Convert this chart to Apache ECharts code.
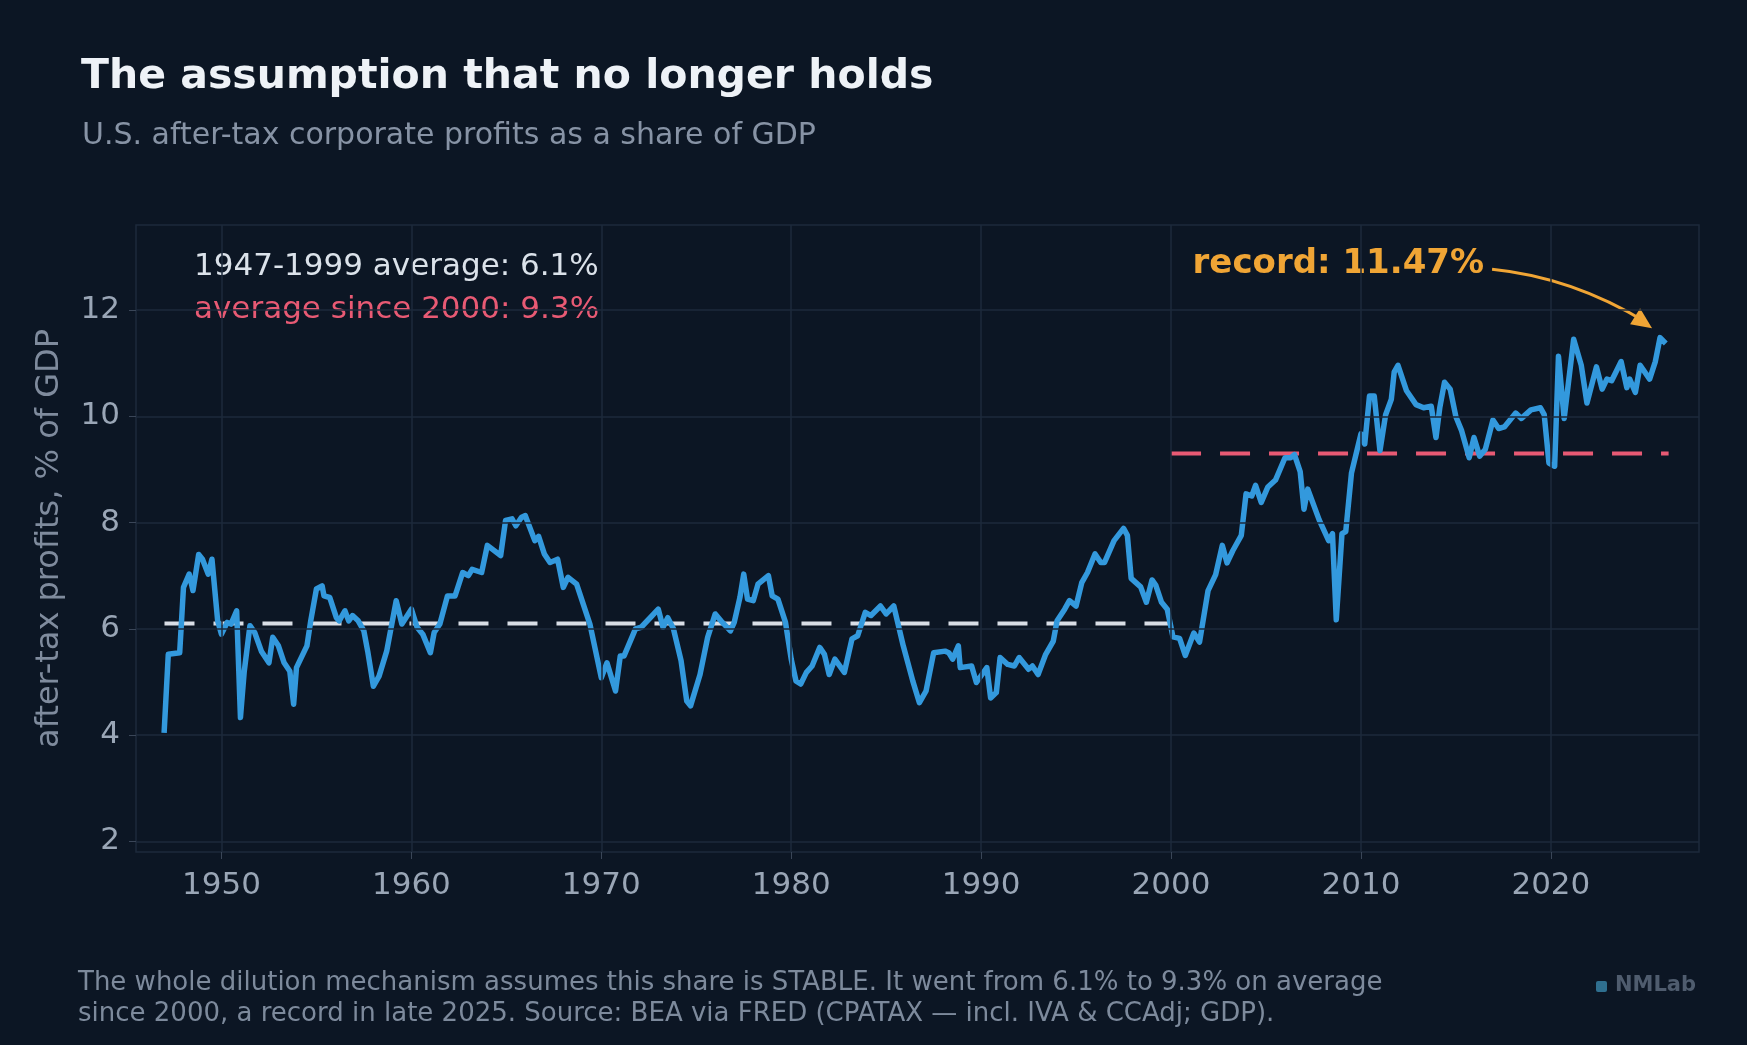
<!DOCTYPE html>
<html><head><meta charset="utf-8">
<script src="https://cdn.jsdelivr.net/npm/echarts@6/dist/echarts.min.js"></script>
<style>html,body{margin:0;padding:0;background:#0c1624}#c{width:1747px;height:1045px}</style>
</head><body><div id="c"></div>
<script>
const years = [1946.98,1947.2,1947.8,1948.0,1948.3,1948.5,1948.8,1949.0,1949.3,1949.5,1949.8,1950.0,1950.3,1950.5,1950.8,1951.0,1951.2,1951.5,1951.75,1952.1,1952.5,1952.7,1953.0,1953.3,1953.6,1953.8,1953.95,1954.5,1954.7,1955.0,1955.3,1955.4,1955.7,1956.05,1956.2,1956.5,1956.7,1956.9,1957.2,1957.5,1957.7,1958.0,1958.3,1958.7,1959.2,1959.5,1960.0,1960.3,1960.6,1961.0,1961.2,1961.5,1961.9,1962.3,1962.7,1963.0,1963.2,1963.7,1964.0,1964.7,1964.96,1965.3,1965.5,1965.8,1966.0,1966.5,1966.7,1967.0,1967.3,1967.7,1968.0,1968.25,1968.7,1969.4,1970.0,1970.3,1970.75,1971.0,1971.2,1971.8,1972.1,1972.2,1972.5,1973.0,1973.25,1973.5,1973.8,1974.2,1974.5,1974.7,1975.2,1975.6,1976.0,1976.3,1976.8,1977.0,1977.3,1977.5,1977.7,1978.0,1978.25,1978.8,1979.0,1979.3,1979.7,1980.0,1980.25,1980.5,1980.8,1981.1,1981.5,1981.75,1982.0,1982.3,1982.8,1983.2,1983.5,1983.9,1984.2,1984.7,1985.0,1985.4,1985.9,1986.4,1986.75,1987.1,1987.5,1988.1,1988.3,1988.5,1988.8,1988.9,1989.5,1989.75,1990.3,1990.5,1990.8,1991.0,1991.4,1991.75,1992.0,1992.5,1992.7,1993.0,1993.4,1993.8,1994.0,1994.4,1994.65,1995.0,1995.3,1995.6,1996.0,1996.3,1996.5,1997.0,1997.5,1997.7,1997.9,1998.4,1998.7,1999.0,1999.2,1999.5,1999.8,2000.1,2000.45,2000.75,2001.2,2001.5,2001.95,2002.35,2002.7,2002.95,2003.25,2003.7,2003.95,2004.25,2004.45,2004.75,2005.1,2005.5,2006.0,2006.3,2006.5,2006.8,2007.0,2007.2,2007.8,2008.3,2008.5,2008.7,2009.0,2009.2,2009.5,2010.0,2010.2,2010.45,2010.7,2011.0,2011.3,2011.6,2011.75,2011.95,2012.4,2012.9,2013.3,2013.7,2013.95,2014.15,2014.4,2014.7,2015.0,2015.3,2015.7,2015.95,2016.25,2016.55,2016.95,2017.25,2017.55,2018.15,2018.45,2018.95,2019.45,2019.65,2019.9,2020.2,2020.4,2020.7,2021.2,2021.6,2021.9,2022.4,2022.7,2022.95,2023.2,2023.7,2024.0,2024.15,2024.45,2024.7,2025.2,2025.5,2025.75,2026.05];
const shares = [4.04,5.52,5.55,6.78,7.03,6.72,7.4,7.31,7.03,7.31,6.15,5.9,6.12,6.09,6.34,4.33,5.2,6.06,5.93,5.58,5.36,5.84,5.68,5.36,5.2,4.58,5.27,5.68,6.15,6.75,6.81,6.62,6.59,6.21,6.15,6.34,6.15,6.25,6.15,5.96,5.58,4.92,5.11,5.58,6.53,6.09,6.37,6.03,5.9,5.55,5.93,6.09,6.62,6.62,7.06,7.0,7.12,7.06,7.57,7.38,8.04,8.07,7.94,8.1,8.13,7.66,7.74,7.41,7.25,7.31,6.78,6.97,6.84,6.09,5.08,5.36,4.83,5.49,5.49,6.0,6.03,6.0,6.18,6.37,6.03,6.21,6.0,5.4,4.64,4.55,5.14,5.84,6.28,6.15,5.96,6.12,6.59,7.03,6.56,6.53,6.84,7.0,6.62,6.56,6.12,5.43,5.02,4.96,5.18,5.3,5.65,5.52,5.14,5.43,5.18,5.81,5.87,6.31,6.25,6.43,6.28,6.43,5.68,5.02,4.61,4.83,5.55,5.58,5.55,5.43,5.68,5.27,5.3,4.99,5.27,4.7,4.8,5.46,5.33,5.3,5.46,5.24,5.3,5.14,5.52,5.77,6.15,6.37,6.53,6.43,6.87,7.06,7.41,7.25,7.25,7.66,7.89,7.76,6.95,6.79,6.5,6.92,6.82,6.5,6.37,5.85,5.82,5.5,5.92,5.75,6.72,7.02,7.57,7.24,7.47,7.76,8.54,8.5,8.7,8.38,8.67,8.8,9.22,9.22,9.28,8.96,8.25,8.63,8.05,7.66,7.79,6.17,7.79,7.83,8.93,9.67,9.48,10.38,10.38,9.35,10.03,10.32,10.83,10.96,10.48,10.22,10.16,10.19,9.6,10.16,10.64,10.51,9.99,9.73,9.22,9.6,9.25,9.38,9.93,9.77,9.8,10.06,9.96,10.12,10.16,10.03,9.12,9.06,11.13,9.96,11.45,10.96,10.25,10.93,10.51,10.7,10.67,11.03,10.54,10.7,10.45,10.96,10.7,11.03,11.48,11.37];
const yTicks = [2,4,6,8,10,12];
const xTicks = [1950,1960,1970,1980,1990,2000,2010,2020];
const avgOld = {from:1947, to:2000, value:6.1};
const avgNew = {from:2000, to:2026.2, value:9.3};
const record = {year:2025.75, value:11.47};

const gridCol = '#1d2a3b', txtCol = '#9aa6b6', bg = '#0c1624';
const chart = echarts.init(document.getElementById('c'));
const gridLines = [
  ...yTicks.map(v => [{coord:[1945.5,v]},{coord:[2027.8,v]}]),
  ...xTicks.map(v => [{coord:[v,1.8]},{coord:[v,13.6]}])
];
chart.setOption({
  backgroundColor: bg,
  animation:false,
  title:[
    {text:'The assumption that no longer holds',left:76,top:52,textStyle:{color:'#eef2f7',fontSize:41,fontWeight:'bold',fontFamily:'DejaVu Sans'}},
    {text:'U.S. after-tax corporate profits as a share of GDP',left:77,top:116,textStyle:{color:'#8793a5',fontSize:30,fontWeight:'normal',fontFamily:'DejaVu Sans'}}
  ],
  grid:{left:136,right:48,top:225,bottom:193,show:true,borderColor:gridCol,borderWidth:1.5,backgroundColor:'transparent'},
  xAxis:{type:'value',min:1945.5,max:2027.8,
    axisLine:{show:false},splitLine:{show:false},
    axisTick:{show:true,customValues:xTicks,length:7,lineStyle:{color:'#3a4658'}},
    axisLabel:{customValues:xTicks,color:txtCol,fontSize:31,margin:18,fontFamily:'DejaVu Sans',formatter:v=>String(v)}},
  yAxis:{type:'value',min:1.8,max:13.6,
    name:'after-tax profits, % of GDP',nameLocation:'middle',nameGap:70,
    nameTextStyle:{color:'#7f8b9d',fontSize:32,fontFamily:'DejaVu Sans'},
    axisLine:{show:false},splitLine:{show:false},
    axisTick:{show:true,customValues:yTicks,length:7,lineStyle:{color:'#3a4658'}},
    axisLabel:{customValues:yTicks,color:txtCol,fontSize:31,margin:16,fontFamily:'DejaVu Sans'}},
  series:[
    {type:'line',data:[],silent:true,markLine:{silent:true,symbol:'none',label:{show:false},lineStyle:{color:gridCol,width:1.5,type:'solid'},data:gridLines}},
    {type:'line',data:[[avgOld.from,avgOld.value],[avgOld.to,avgOld.value]],showSymbol:false,lineStyle:{color:'#d9dee6',width:4,type:[30,19]},z:3},
    {type:'line',data:[[avgNew.from,avgNew.value],[avgNew.to,avgNew.value]],showSymbol:false,lineStyle:{color:'#e85a74',width:4,type:[30,19]},z:3},
    {type:'line',data:years.map((y,i)=>[y,shares[i]]),showSymbol:false,lineStyle:{color:'#3399dd',width:5.5,join:'round'},z:4}
  ]
});
const p = chart.convertToPixel({gridIndex:0},[record.year,record.value]);
const tip = [p[0]-8, p[1]-10];
const start = [tip[0]-160, tip[1]-59];
chart.setOption({graphic:[
  {type:'text',left:194,top:251,style:{text:'1947-1999 average: 6.1%',fill:'#dbe2ea',font:'31px DejaVu Sans'}},
  {type:'text',left:194,top:294,style:{text:'average since 2000: '+avgNew.value+'%',fill:'#e85a74',font:'31px DejaVu Sans'}},
  {type:'text',x:start[0]-8,y:start[1]-5,style:{text:'record: '+record.value+'%',fill:'#f0a535',font:'bold 34px DejaVu Sans',textAlign:'right',textVerticalAlign:'middle'}},
  {type:'bezierCurve',shape:{x1:start[0],y1:start[1],x2:tip[0]-6,y2:tip[1]-6,cpx1:start[0]+80,cpy1:start[1]+8},style:{stroke:'#f0a535',lineWidth:3,fill:'none'}},
  {type:'polygon',shape:{points:[[tip[0],tip[1]],[tip[0]-22,tip[1]-4],[tip[0]-12,tip[1]-20]]},style:{fill:'#f0a535'}},
  {type:'text',left:78,top:968,style:{text:'The whole dilution mechanism assumes this share is STABLE. It went from 6.1% to 9.3% on average\nsince 2000, a record in late 2025. Source: BEA via FRED (CPATAX — incl. IVA & CCAdj; GDP).',fill:'#7d8a9c',font:'26px DejaVu Sans',lineHeight:31}},
  {type:'rect',shape:{x:1596,y:981,width:11,height:11,r:2},style:{fill:'#2f6f8f'}},
  {type:'text',left:1615,top:975,style:{text:'NMLab',fill:'#4f5c6e',font:'bold 21px DejaVu Sans'}}
]});
</script></body></html>
